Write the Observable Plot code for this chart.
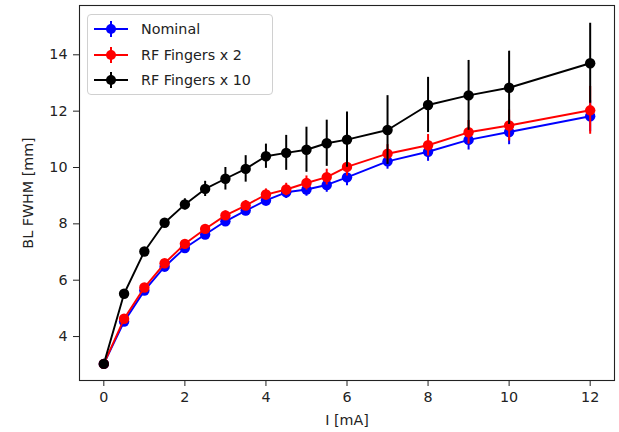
<!DOCTYPE html>
<html>
<head>
<meta charset="utf-8">
<script src="https://cdn.jsdelivr.net/npm/d3@7"></script>
<script src="https://cdn.jsdelivr.net/npm/@observablehq/plot@0.6"></script>
<style>
  html, body { margin: 0; padding: 0; background: #fff; }
  #wrap { position: relative; width: 619px; height: 432px; font-family: "DejaVu Sans", sans-serif; }
  #legend { position: absolute; left: 87px; top: 14px; width: 186px; height: 81px;
    border: 1px solid #d0d0d0; border-radius: 4px; background: rgba(255,255,255,0.8);
    box-sizing: border-box; }
  .row { position: absolute; left: 5px; height: 20px; display: flex; align-items: center;
    font-size: 14.3px; color: #222; }
  .row svg { margin-right: 12px; }
</style>
</head>
<body>
<div id="wrap"></div>
<script>
// ---- data ----
const current = [0, 0.5, 1, 1.5, 2, 2.5, 3, 3.5, 4, 4.5, 5, 5.5, 6, 7, 8, 9, 10, 12];
const nominal = [3.03, 4.53, 5.63, 6.48, 7.14, 7.62, 8.09, 8.47, 8.83, 9.12, 9.22, 9.38, 9.65, 10.22, 10.56, 10.98, 11.26, 11.82];
const nominalErr = [0, 0.06, 0.08, 0.1, 0.12, 0.14, 0.16, 0.18, 0.2, 0.22, 0.24, 0.26, 0.3, 0.28, 0.34, 0.36, 0.45, 0.55];
const rf2 = [3.03, 4.63, 5.74, 6.60, 7.29, 7.82, 8.30, 8.65, 9.04, 9.22, 9.45, 9.66, 10.02, 10.49, 10.79, 11.25, 11.49, 12.03];
const rf2Err = [0, 0.06, 0.08, 0.1, 0.12, 0.14, 0.16, 0.18, 0.2, 0.22, 0.25, 0.28, 0.32, 0.32, 0.38, 0.42, 0.55, 0.85];
const rf10 = [3.03, 5.52, 7.02, 8.04, 8.69, 9.24, 9.60, 9.95, 10.40, 10.52, 10.63, 10.86, 10.99, 11.33, 12.22, 12.56, 12.83, 13.70];
const rf10Err = [0, 0.1, 0.12, 0.15, 0.2, 0.27, 0.4, 0.47, 0.43, 0.62, 0.8, 0.82, 0.98, 1.22, 0.98, 1.24, 1.3, 1.42];
const seriesNames = ["Nominal", "RF Fingers x 2", "RF Fingers x 10"];
const seriesColors = ["#0000ff", "#ff0000", "#000000"];
const xTicks = [0, 2, 4, 6, 8, 10, 12];
const yTicks = [4, 6, 8, 10, 12, 14];

const values = [nominal, rf2, rf10];
const errs = [nominalErr, rf2Err, rf10Err];

const marks = [];
values.forEach((vals, k) => {
  const rows = current.map((x, i) => ({x, y: vals[i], lo: vals[i] - errs[k][i], hi: vals[i] + errs[k][i]}));
  const c = seriesColors[k];
  marks.push(Plot.ruleX(rows.filter(d => d.hi > d.lo), {x: "x", y1: "lo", y2: "hi", stroke: c, strokeWidth: 2}));
  marks.push(Plot.line(rows, {x: "x", y: "y", stroke: c, strokeWidth: 1.9}));
  marks.push(Plot.dot(rows, {x: "x", y: "y", r: 5.2, fill: c, stroke: "none"}));
});

const chart = Plot.plot({
  width: 619, height: 432,
  marginLeft: 79, marginRight: 5, marginTop: 5, marginBottom: 52,
  style: {fontFamily: "DejaVu Sans, sans-serif", fontSize: "14.3px", color: "#222", background: "#fff"},
  x: {domain: [-0.6, 12.6]},
  y: {domain: [2.44, 15.75]},
  marks: [
    ...marks,
    Plot.frame({stroke: "#222", strokeWidth: 1.1}),
    Plot.axisX({ticks: xTicks, tickSize: 6, tickPadding: 5, label: "I [mA]", labelAnchor: "center", labelOffset: 44, labelArrow: "none", fontSize: 14.3}),
    Plot.axisY({ticks: yTicks, tickSize: 6, tickPadding: 6, label: "BL FWHM [mm]", labelAnchor: "center", labelOffset: 57, labelArrow: "none", fontSize: 14.3})
  ]
});

const wrap = document.getElementById("wrap");
wrap.appendChild(chart);

// legend
const legend = document.createElement("div");
legend.id = "legend";
seriesNames.forEach((name, k) => {
  const row = document.createElement("div");
  row.className = "row";
  row.style.top = (4 + k * 25.5) + "px";
  const c = seriesColors[k];
  row.innerHTML = `<svg width="36" height="20"><line x1="1" x2="35" y1="10" y2="10" stroke="${c}" stroke-width="1.9"/><line x1="18" x2="18" y1="2" y2="18" stroke="${c}" stroke-width="2"/><circle cx="18" cy="10" r="5" fill="${c}"/></svg><span>${name}</span>`;
  legend.appendChild(row);
});
wrap.appendChild(legend);
</script>
</body>
</html>
